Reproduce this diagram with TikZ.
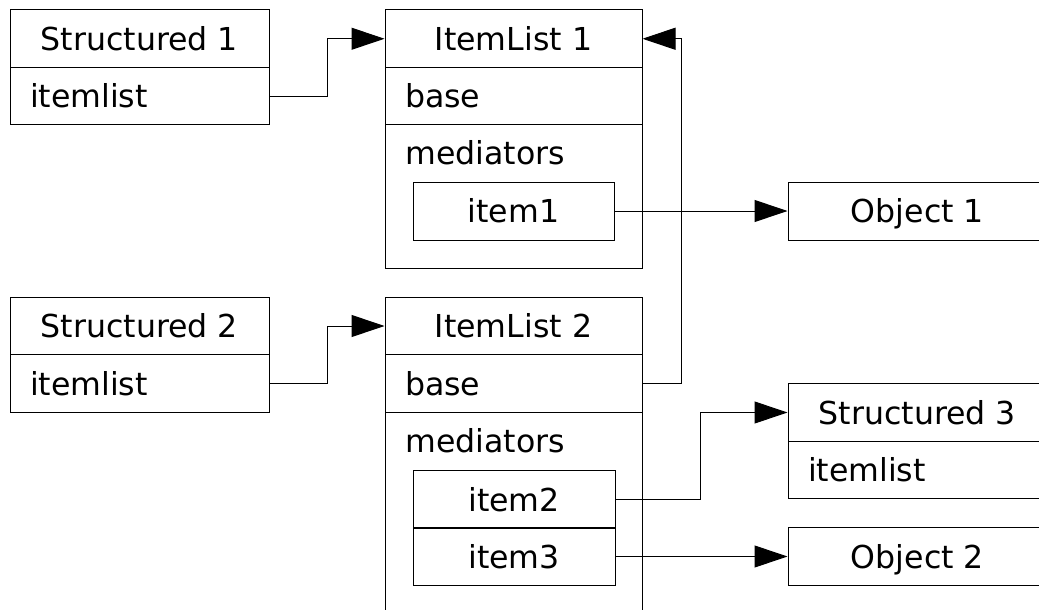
\documentclass[tikz,border=0pt]{standalone}
\usepackage{fontspec}
\setmainfont{DejaVu Sans}
\usetikzlibrary{arrows.meta}
\tikzset{
  box/.style={draw=black, line width=0.5pt, inner sep=0pt, minimum height=28.75pt,
    text height=11.5pt, text depth=0pt, font=\fontsize{15.8}{18}\selectfont},
  hdr/.style={box, minimum width=#1},
  rowL/.style={box, inner xsep=10pt, align=left, text width=#1},
  lbl/.style={inner sep=0pt, anchor=base west, font=\fontsize{15.8}{18}\selectfont},
  outer/.style={draw=black, line width=0.5pt, inner sep=0pt},
  conn/.style={draw=black, line width=0.5pt, -{Triangle[length=16.5pt,width=11pt]}}
}
\begin{document}
\begin{tikzpicture}[x=0.5pt,y=-0.5pt]
\useasboundingbox (0,0) rectangle (1039,610);
\clip (0,0) rectangle (1039,610);
% outer boxes
\node[outer, minimum width=128.5pt, minimum height=129pt] (il1) at (513.5,139) {};
\node[outer, minimum width=128.5pt, minimum height=203pt] (il2) at (513.5,500) {};
% Structured 1
\node[hdr=129.5pt] (s1h) at (139.5,38.75) {Structured 1};
\node[rowL=109.5pt] (s1r) at (139.5,96.25) {itemlist};
% ItemList 1
\node[hdr=128.5pt] (il1h) at (513.5,38.75) {ItemList 1};
\node[rowL=108.5pt] (il1b) at (513.5,96.25) {base};
\node[lbl] (il1m) at (405,164) {mediators};
\node[hdr=100.5pt, minimum height=29pt] (item1) at (513.5,211) {item1};
% Object 1
\node[hdr=129.5pt, minimum height=29pt] (o1) at (917.5,211) {Object 1};
% Structured 2
\node[hdr=129.5pt] (s2h) at (139.5,326) {Structured 2};
\node[rowL=109.5pt] (s2r) at (139.5,383.5) {itemlist};
% ItemList 2
\node[hdr=128.5pt] (il2h) at (513.5,326) {ItemList 2};
\node[rowL=108.5pt] (il2b) at (513.5,383.5) {base};
\node[lbl] (il2m) at (405,452) {mediators};
\node[hdr=101pt] (item2) at (514,499.5) {item2};
\node[hdr=101pt] (item3) at (514,556.5) {item3};
% Structured 3 and Object 2
\node[hdr=129.5pt] (s3h) at (917.5,412.5) {Structured 3};
\node[rowL=109.5pt] (s3r) at (917.5,470) {itemlist};
\node[hdr=129.5pt] (o2) at (917.5,556.5) {Object 2};
% connectors
\draw[conn] (s1r.east) -- ++(57.5,0) |- (il1h.west);
\draw[conn] (s2r.east) -- ++(57.5,0) |- (il2h.west);
\draw[conn] (il2b.east) -- ++(39,0) |- (il1h.east);
\draw[conn] (item1.east) -- (o1.west);
\draw[conn] (item2.east) -- ++(85,0) |- (s3h.west);
\draw[conn] (item3.east) -- (o2.west);
\end{tikzpicture}
\end{document}
